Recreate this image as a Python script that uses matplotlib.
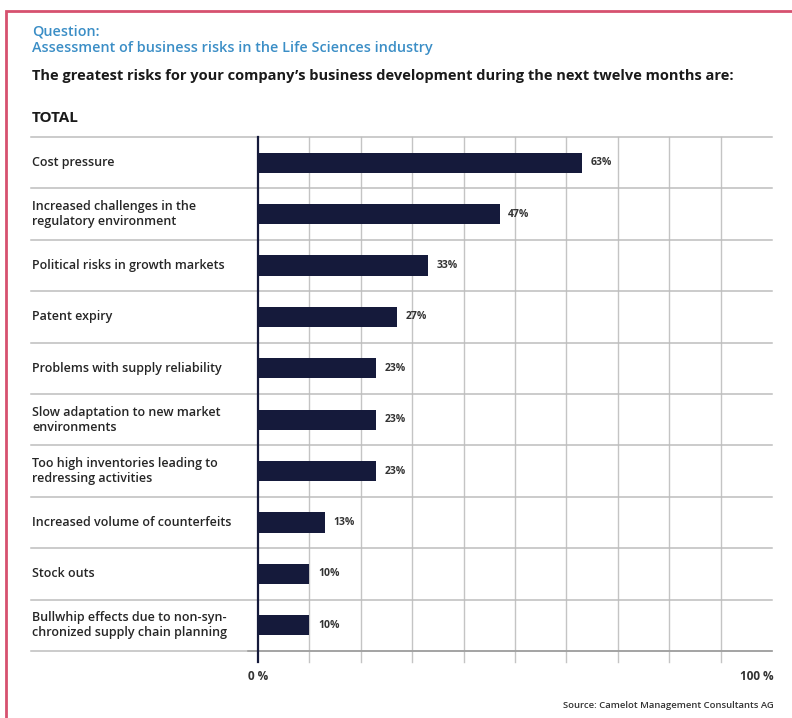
import matplotlib.pyplot as plt
from matplotlib.patches import Rectangle

# Data
categories = [
    "Cost pressure",
    "Increased challenges in the\nregulatory environment",
    "Political risks in growth markets",
    "Patent expiry",
    "Problems with supply reliability",
    "Slow adaptation to new market\nenvironments",
    "Too high inventories leading to\nredressing activities",
    "Increased volume of counterfeits",
    "Stock outs",
    "Bullwhip effects due to non-syn-\nchronized supply chain planning",
]
values = [63, 47, 33, 27, 23, 23, 23, 13, 10, 10]
value_labels = ["63%", "47%", "33%", "27%", "23%", "23%", "23%", "13%", "10%", "10%"]

W, H = 792, 718
fig = plt.figure(figsize=(W / 100, H / 100), dpi=100)
plt.rcParams['font.family'] = ['Open Sans', 'DejaVu Sans']

# axes in pixel coords: x 258..772, y 137..651 (from top)
ax = fig.add_axes([258 / W, 1 - 651 / H, (772 - 258) / W, (651 - 137) / H])
n = len(categories)
ypos = list(range(n))

ax.barh(ypos, values, height=0.39, color='#151a3b', zorder=3)
ax.set_xlim(0, 100)
ax.set_ylim(n - 0.5, -0.5)

# vertical grid lines, extending a bit below the axis
for x in range(10, 100, 10):
    ax.plot([x, x], [-0.5, n - 0.5 + 0.22], color='#c4c4c4', lw=1, zorder=1, clip_on=False)
ax.plot([0, 0], [-0.5, n - 0.5 + 0.22], color='#151a3b', lw=1.6, zorder=4, clip_on=False)

# horizontal separators
lx = (31 - 258) / 514
for i in range(n + 1):
    ax.axhline(i - 0.5, xmin=lx, xmax=1, color='#bdbdbd', lw=1.1, zorder=1, clip_on=False)
ax.plot([-2, 100], [n - 0.5, n - 0.5], color='#9a9a9a', lw=1.1, zorder=2, clip_on=False)

tr = ax.get_yaxis_transform()
for i, (c, v, t) in enumerate(zip(categories, values, value_labels)):
    ax.text((32 - 258) / 514, i, c, transform=tr, ha='left', va='center',
            fontsize=9, fontweight='semibold', color='#262626', linespacing=1.2)
    ax.text(v + 1.7, i, t, ha='left', va='center', fontsize=7.5,
            fontweight='bold', color='#333333')

for s in ax.spines.values():
    s.set_visible(False)
ax.set_xticks([])
ax.set_yticks([])

# axis end labels
fig.text(258 / W, 1 - 677 / H, "0 %", ha='center', va='center', fontsize=8.5,
         fontweight='bold', color='#333333')
fig.text(774 / W, 1 - 677 / H, "100 %", ha='right', va='center', fontsize=8.5,
         fontweight='bold', color='#333333')
fig.text(774 / W, 1 - 706 / H, "Source: Camelot Management Consultants AG", ha='right',
         va='center', fontsize=6.8, fontweight='semibold', color='#333333')

# header texts
fig.text(32 / W, 1 - 31 / H, "Question:", ha='left', va='center', fontsize=10.4,
         fontweight='semibold', color='#3b8ec6')
fig.text(32 / W, 1 - 48 / H, "Assessment of business risks in the Life Sciences industry",
         ha='left', va='center', fontsize=10.4, fontweight='semibold', color='#3b8ec6')
fig.text(32 / W, 1 - 76 / H,
         "The greatest risks for your company\u2019s business development during the next twelve months are:",
         ha='left', va='center', fontsize=10.5, fontweight='bold', color='#1a1a1a')
fig.text(32 / W, 1 - 118 / H, "TOTAL", ha='left', va='center', fontsize=11,
         fontweight='bold', color='#1a1a1a')

# red frame
fig.add_artist(Rectangle((6 / W, -0.1), 1.2, (1 - 11 / H) + 0.1, transform=fig.transFigure,
                         fill=False, edgecolor='#d6516f', lw=2))

fig.savefig("out.png", dpi=100)
